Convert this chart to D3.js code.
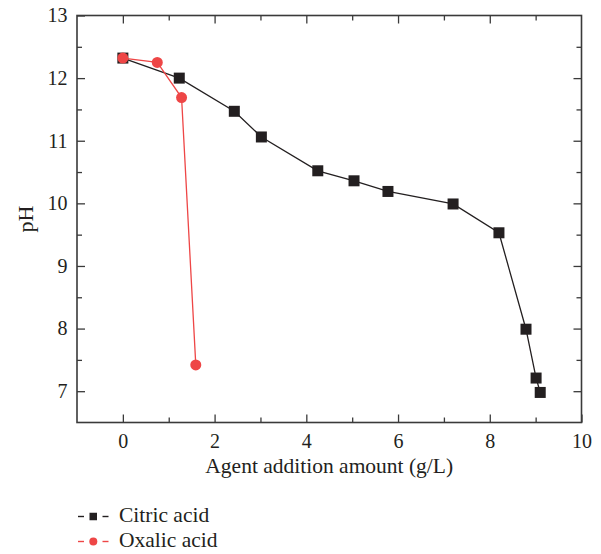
<!DOCTYPE html>
<html>
<head>
<meta charset="utf-8">
<script src="https://cdn.jsdelivr.net/npm/d3@7/dist/d3.min.js"></script>
<style>
  html, body { margin: 0; padding: 0; background: #fff; }
  svg { display: block; }
  text { font-family: "Liberation Serif", "DejaVu Serif", serif; fill: #231f20; }
</style>
</head>
<body>
<svg id="chart" width="601" height="554"></svg>
<script>
// pH versus agent dosage
const citricX = [0, 1.23, 2.43, 3.02, 4.25, 5.04, 5.78, 7.2, 8.2, 8.79, 9.01, 9.1];
const citricPH = [12.32, 12.0, 11.47, 11.06, 10.52, 10.36, 10.19, 9.99, 9.53, 7.99, 7.21, 6.98];
const oxalicX = [0, 0.75, 1.28, 1.59];
const oxalicPH = [12.32, 12.25, 11.69, 7.42];

const xTicks = [0, 2, 4, 6, 8, 10];
const xMinorTicks = [1, 3, 5, 7, 9];
const yTicks = [7, 8, 9, 10, 11, 12, 13];
const yMinorTicks = [7.5, 8.5, 9.5, 10.5, 11.5, 12.5];

const seriesNames = ["Citric acid", "Oxalic acid"];
const seriesColors = ["#231f20", "#ee4646"];

const svg = d3.select("#chart");
const plotL = 77, plotR = 581.5, plotT = 15.5, plotB = 422.5;

const x = d3.scaleLinear().domain([-1, 10]).range([plotL, plotR]);
const y = d3.scaleLinear().domain([6.5, 13]).range([plotB, plotT]);

const axisColor = "#3a3a3a";
const g = svg.append("g");

// Axes on all four sides, ticks pointing inward
function styleAxis(sel) {
  sel.select(".domain").remove();
  sel.selectAll(".tick line").attr("stroke", axisColor).attr("stroke-width", 1.3);
  sel.selectAll(".tick text")
    .style("font-family", '"Liberation Serif", "DejaVu Serif", serif')
    .style("font-size", "20px")
    .attr("fill", "#231f20");
}

// bottom
g.append("g").attr("transform", `translate(0,${plotB})`)
  .call(d3.axisBottom(x).tickValues(xTicks).tickSizeInner(-8).tickSizeOuter(0).tickPadding(11).tickFormat(d3.format("d")))
  .call(styleAxis);
g.append("g").attr("transform", `translate(0,${plotB})`)
  .call(d3.axisBottom(x).tickValues(xMinorTicks).tickSizeInner(-5).tickSizeOuter(0).tickFormat(""))
  .call(styleAxis);
// top
g.append("g").attr("transform", `translate(0,${plotT})`)
  .call(d3.axisTop(x).tickValues(xTicks.filter(v => v < 10)).tickSizeInner(-8).tickSizeOuter(0).tickFormat(""))
  .call(styleAxis);
g.append("g").attr("transform", `translate(0,${plotT})`)
  .call(d3.axisTop(x).tickValues(xMinorTicks).tickSizeInner(-5).tickSizeOuter(0).tickFormat(""))
  .call(styleAxis);
// left
g.append("g").attr("transform", `translate(${plotL},0)`)
  .call(d3.axisLeft(y).tickValues(yTicks).tickSizeInner(-8).tickSizeOuter(0).tickPadding(9.5).tickFormat(d3.format("d")))
  .call(styleAxis);
g.append("g").attr("transform", `translate(${plotL},0)`)
  .call(d3.axisLeft(y).tickValues(yMinorTicks).tickSizeInner(-5).tickSizeOuter(0).tickFormat(""))
  .call(styleAxis);
// right
g.append("g").attr("transform", `translate(${plotR},0)`)
  .call(d3.axisRight(y).tickValues(yTicks.filter(v => v < 13)).tickSizeInner(-8).tickSizeOuter(0).tickFormat(""))
  .call(styleAxis);
g.append("g").attr("transform", `translate(${plotR},0)`)
  .call(d3.axisRight(y).tickValues(yMinorTicks).tickSizeInner(-5).tickSizeOuter(0).tickFormat(""))
  .call(styleAxis);

// frame
g.append("rect")
  .attr("x", plotL).attr("y", plotT)
  .attr("width", plotR - plotL).attr("height", plotB - plotT)
  .attr("fill", "none").attr("stroke", axisColor).attr("stroke-width", 1.6);

// axis titles
svg.append("text")
  .attr("x", (plotL + plotR) / 2).attr("y", 473)
  .attr("text-anchor", "middle")
  .style("font-size", "21.5px")
  .text("Agent addition amount (g/L)");
svg.append("text")
  .attr("transform", `translate(33,${(plotT + plotB) / 2}) rotate(-90)`)
  .attr("text-anchor", "middle")
  .style("font-size", "22px")
  .text("pH");

// series
const citric = citricX.map((v, i) => ({ x: v, y: citricPH[i] }));
const oxalic = oxalicX.map((v, i) => ({ x: v, y: oxalicPH[i] }));
const line = d3.line().x(d => x(d.x)).y(d => y(d.y));

const plot = svg.append("g");
plot.append("path").datum(citric)
  .attr("d", line).attr("fill", "none")
  .attr("stroke", seriesColors[0]).attr("stroke-width", 1.3);
const sq = 11;
plot.selectAll("rect.citric").data(citric).enter().append("rect")
  .attr("class", "citric")
  .attr("x", d => x(d.x) - sq / 2).attr("y", d => y(d.y) - sq / 2)
  .attr("width", sq).attr("height", sq)
  .attr("fill", seriesColors[0]);

plot.append("path").datum(oxalic)
  .attr("d", line).attr("fill", "none")
  .attr("stroke", seriesColors[1]).attr("stroke-width", 1.3);
plot.selectAll("circle.oxalic").data(oxalic).enter().append("circle")
  .attr("class", "oxalic")
  .attr("cx", d => x(d.x)).attr("cy", d => y(d.y))
  .attr("r", 5.5)
  .attr("fill", seriesColors[1]);

// legend
const legend = svg.append("g");
seriesNames.forEach((name, i) => {
  const ly = 516.5 + i * 25;
  const c = seriesColors[i];
  legend.append("line").attr("x1", 78).attr("x2", 84).attr("y1", ly).attr("y2", ly)
    .attr("stroke", c).attr("stroke-width", 1.4);
  legend.append("line").attr("x1", 102.5).attr("x2", 108.5).attr("y1", ly).attr("y2", ly)
    .attr("stroke", c).attr("stroke-width", 1.4);
  if (i === 0) {
    legend.append("rect").attr("x", 89.5).attr("y", ly - 3.75).attr("width", 7.5).attr("height", 7.5).attr("fill", c);
  } else {
    legend.append("circle").attr("cx", 93.3).attr("cy", ly).attr("r", 4).attr("fill", c);
  }
  legend.append("text").attr("x", 119).attr("y", ly + 5.5)
    .style("font-size", "21.5px").text(name);
});
</script>
</body>
</html>
